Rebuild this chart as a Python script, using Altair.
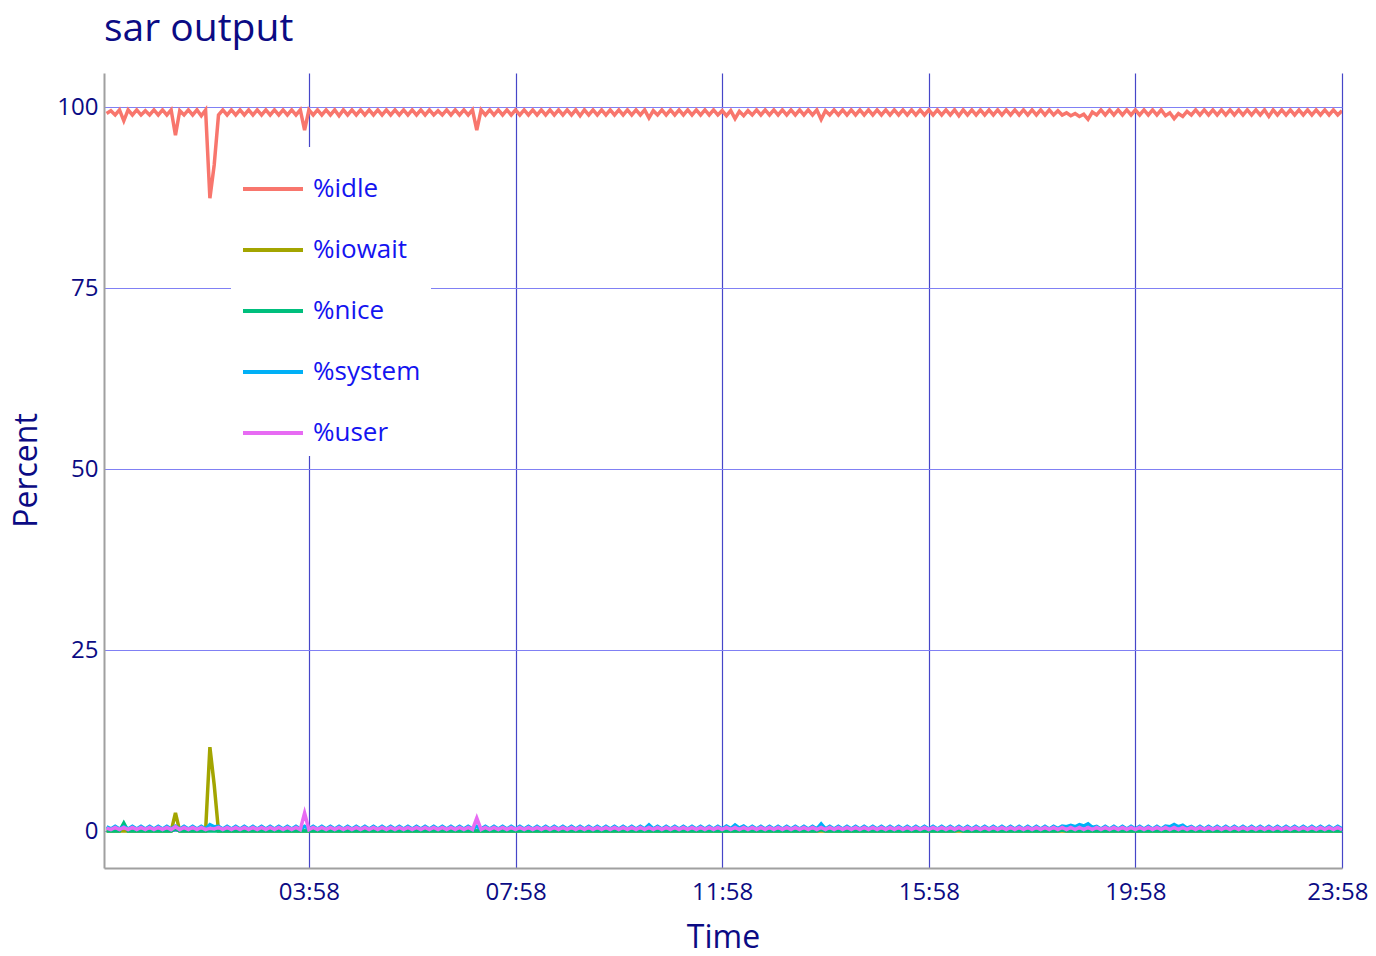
import altair as alt
import pandas as pd

# sample times (minutes after midnight), one every 5 minutes
minutes = list(range(3, 1440, 5))

series_names = ["%idle", "%iowait", "%nice", "%system", "%user"]
series_colors = ["#F8766D", "#A3A500", "#00BF7D", "#00B0F6", "#E76BF3"]

tick_minutes = [238, 478, 718, 958, 1198, 1438]
y_ticks = [0, 25, 50, 75, 100]

idle_pct = [
    99.1, 99.5, 98.9, 99.6, 98.1, 99.6, 98.9, 99.6, 98.9, 99.5, 98.9, 99.6,
    98.9, 99.6, 98.9, 99.6, 96.1, 99.5, 98.9, 99.6, 98.9, 99.6, 98.8, 99.6,
    87.4, 92.0, 98.9, 99.6, 98.9, 99.6, 98.9, 99.6, 98.9, 99.6, 98.9, 99.6,
    98.9, 99.6, 98.9, 99.6, 98.9, 99.6, 98.9, 99.6, 98.9, 99.6, 96.8, 99.6,
    98.9, 99.6, 98.9, 99.6, 98.9, 99.6, 98.8, 99.6, 98.9, 99.6, 98.9, 99.6,
    98.9, 99.6, 98.9, 99.6, 98.9, 99.6, 98.9, 99.6, 98.9, 99.6, 98.9, 99.6,
    98.9, 99.6, 98.9, 99.6, 98.9, 99.5, 98.9, 99.6, 98.9, 99.6, 98.9, 99.6,
    98.9, 99.6, 96.8, 99.6, 98.9, 99.6, 98.9, 99.6, 98.9, 99.6, 98.9, 99.6,
    98.9, 99.6, 98.9, 99.6, 98.9, 99.6, 98.9, 99.6, 98.9, 99.6, 98.9, 99.6,
    98.9, 99.6, 98.8, 99.6, 98.9, 99.6, 98.9, 99.6, 98.9, 99.6, 98.9, 99.6,
    98.9, 99.6, 98.9, 99.6, 98.9, 99.6, 98.5, 99.5, 98.9, 99.6, 98.9, 99.6,
    98.9, 99.6, 98.9, 99.6, 98.9, 99.6, 98.9, 99.6, 98.9, 99.6, 98.9, 99.5,
    98.8, 99.5, 98.4, 99.4, 98.8, 99.5, 98.9, 99.6, 98.9, 99.6, 98.9, 99.6,
    98.9, 99.6, 98.9, 99.6, 98.9, 99.6, 98.9, 99.6, 98.9, 99.6, 98.3, 99.5,
    98.9, 99.6, 98.9, 99.6, 98.9, 99.6, 98.9, 99.6, 98.9, 99.6, 98.9, 99.6,
    98.9, 99.6, 98.9, 99.6, 98.9, 99.6, 98.9, 99.6, 98.9, 99.6, 98.9, 99.6,
    98.9, 99.6, 98.9, 99.6, 98.9, 99.6, 98.8, 99.6, 98.9, 99.6, 98.9, 99.6,
    98.9, 99.6, 98.9, 99.6, 98.9, 99.6, 98.9, 99.6, 98.9, 99.6, 98.9, 99.6,
    98.9, 99.6, 98.9, 99.6, 98.9, 99.5, 98.9, 99.2, 98.8, 99.1, 98.7, 99.0,
    98.3, 99.3, 98.9, 99.6, 98.9, 99.6, 98.9, 99.6, 98.9, 99.6, 98.9, 99.6,
    98.9, 99.6, 98.9, 99.6, 98.9, 99.6, 98.8, 99.2, 98.4, 99.1, 98.7, 99.4,
    98.9, 99.6, 98.9, 99.6, 98.9, 99.6, 98.9, 99.6, 98.9, 99.6, 98.9, 99.6,
    98.9, 99.6, 98.9, 99.6, 98.9, 99.6, 98.7, 99.6, 98.9, 99.6, 98.9, 99.6,
    98.9, 99.6, 98.9, 99.6, 98.9, 99.6, 98.9, 99.6, 98.9, 99.6, 98.9, 99.5,
]

iowait_pct = [
    0.0, 0.0, 0.0, 0.0, 0.0, 0.0, 0.0, 0.0, 0.0, 0.0, 0.0, 0.0,
    0.0, 0.0, 0.0, 0.0, 2.5, 0.0, 0.0, 0.0, 0.0, 0.0, 0.0, 0.0,
    11.6, 6.4, 0.0, 0.0, 0.0, 0.0, 0.0, 0.0, 0.0, 0.0, 0.0, 0.0,
    0.0, 0.0, 0.0, 0.0, 0.0, 0.0, 0.0, 0.0, 0.0, 0.0, 0.0, 0.0,
    0.0, 0.0, 0.0, 0.0, 0.0, 0.0, 0.0, 0.0, 0.0, 0.0, 0.0, 0.0,
    0.0, 0.0, 0.0, 0.0, 0.0, 0.0, 0.0, 0.0, 0.0, 0.0, 0.0, 0.0,
    0.0, 0.0, 0.0, 0.0, 0.0, 0.0, 0.0, 0.0, 0.0, 0.0, 0.0, 0.0,
    0.0, 0.0, 0.0, 0.0, 0.0, 0.0, 0.0, 0.0, 0.0, 0.0, 0.0, 0.0,
    0.0, 0.0, 0.0, 0.0, 0.0, 0.0, 0.0, 0.0, 0.0, 0.0, 0.0, 0.0,
    0.0, 0.0, 0.0, 0.0, 0.0, 0.0, 0.0, 0.0, 0.0, 0.0, 0.0, 0.0,
    0.0, 0.0, 0.0, 0.0, 0.0, 0.0, 0.0, 0.0, 0.0, 0.0, 0.0, 0.0,
    0.0, 0.0, 0.0, 0.0, 0.0, 0.0, 0.0, 0.0, 0.0, 0.0, 0.0, 0.0,
    0.0, 0.0, 0.0, 0.0, 0.0, 0.0, 0.0, 0.0, 0.0, 0.0, 0.0, 0.0,
    0.0, 0.0, 0.0, 0.0, 0.0, 0.0, 0.0, 0.0, 0.0, 0.0, 0.0, 0.0,
    0.0, 0.0, 0.0, 0.0, 0.0, 0.0, 0.0, 0.0, 0.0, 0.0, 0.0, 0.0,
    0.0, 0.0, 0.0, 0.0, 0.0, 0.0, 0.0, 0.0, 0.0, 0.0, 0.0, 0.0,
    0.0, 0.0, 0.0, 0.0, 0.0, 0.0, 0.0, 0.0, 0.0, 0.0, 0.0, 0.0,
    0.0, 0.0, 0.0, 0.0, 0.0, 0.0, 0.0, 0.0, 0.0, 0.0, 0.0, 0.0,
    0.0, 0.0, 0.0, 0.0, 0.0, 0.0, 0.0, 0.0, 0.0, 0.0, 0.0, 0.0,
    0.0, 0.0, 0.0, 0.0, 0.0, 0.0, 0.0, 0.0, 0.0, 0.0, 0.0, 0.0,
    0.0, 0.0, 0.0, 0.0, 0.0, 0.0, 0.0, 0.0, 0.0, 0.0, 0.0, 0.0,
    0.0, 0.0, 0.0, 0.0, 0.0, 0.0, 0.0, 0.0, 0.0, 0.0, 0.0, 0.0,
    0.0, 0.0, 0.0, 0.0, 0.0, 0.0, 0.0, 0.0, 0.0, 0.0, 0.0, 0.0,
    0.0, 0.0, 0.0, 0.0, 0.0, 0.0, 0.0, 0.0, 0.0, 0.0, 0.0, 0.0,
]

nice_pct = [
    0.0, 0.0, 0.0, 0.0, 1.1, 0.0, 0.0, 0.0, 0.0, 0.0, 0.0, 0.0,
    0.0, 0.0, 0.0, 0.0, 0.3, 0.0, 0.0, 0.0, 0.0, 0.0, 0.0, 0.0,
    0.0, 0.0, 0.0, 0.0, 0.0, 0.0, 0.0, 0.0, 0.0, 0.0, 0.0, 0.0,
    0.0, 0.0, 0.0, 0.0, 0.0, 0.0, 0.0, 0.0, 0.0, 0.0, 0.0, 0.0,
    0.0, 0.0, 0.0, 0.0, 0.0, 0.0, 0.0, 0.0, 0.0, 0.0, 0.0, 0.0,
    0.0, 0.0, 0.0, 0.0, 0.0, 0.0, 0.0, 0.0, 0.0, 0.0, 0.0, 0.0,
    0.0, 0.0, 0.0, 0.0, 0.0, 0.0, 0.0, 0.0, 0.0, 0.0, 0.0, 0.0,
    0.0, 0.0, 0.0, 0.0, 0.0, 0.0, 0.0, 0.0, 0.0, 0.0, 0.0, 0.0,
    0.0, 0.0, 0.0, 0.0, 0.0, 0.0, 0.0, 0.0, 0.0, 0.0, 0.0, 0.0,
    0.0, 0.0, 0.0, 0.0, 0.0, 0.0, 0.0, 0.0, 0.0, 0.0, 0.0, 0.0,
    0.0, 0.0, 0.0, 0.0, 0.0, 0.0, 0.0, 0.0, 0.0, 0.0, 0.0, 0.0,
    0.0, 0.0, 0.0, 0.0, 0.0, 0.0, 0.0, 0.0, 0.0, 0.0, 0.0, 0.0,
    0.0, 0.0, 0.0, 0.0, 0.0, 0.0, 0.0, 0.0, 0.0, 0.0, 0.0, 0.0,
    0.0, 0.0, 0.0, 0.0, 0.0, 0.0, 0.0, 0.0, 0.0, 0.0, 0.2, 0.0,
    0.0, 0.0, 0.0, 0.0, 0.0, 0.0, 0.0, 0.0, 0.0, 0.0, 0.0, 0.0,
    0.0, 0.0, 0.0, 0.0, 0.0, 0.0, 0.0, 0.0, 0.0, 0.0, 0.0, 0.0,
    0.0, 0.0, 0.0, 0.0, 0.0, 0.0, 0.2, 0.0, 0.0, 0.0, 0.0, 0.0,
    0.0, 0.0, 0.0, 0.0, 0.0, 0.0, 0.0, 0.0, 0.0, 0.0, 0.0, 0.0,
    0.0, 0.0, 0.0, 0.0, 0.0, 0.0, 0.15, 0.0, 0.0, 0.0, 0.0, 0.0,
    0.0, 0.0, 0.0, 0.0, 0.0, 0.0, 0.0, 0.0, 0.0, 0.0, 0.0, 0.0,
    0.0, 0.0, 0.0, 0.0, 0.0, 0.0, 0.0, 0.0, 0.0, 0.0, 0.0, 0.0,
    0.0, 0.0, 0.0, 0.0, 0.0, 0.0, 0.0, 0.0, 0.0, 0.0, 0.0, 0.0,
    0.0, 0.0, 0.0, 0.0, 0.0, 0.0, 0.0, 0.0, 0.0, 0.0, 0.0, 0.0,
    0.0, 0.0, 0.0, 0.0, 0.0, 0.0, 0.0, 0.0, 0.0, 0.0, 0.0, 0.0,
]

system_pct = [
    0.6, 0.3, 0.65, 0.3, 0.6, 0.3, 0.65, 0.3, 0.65, 0.3, 0.65, 0.3,
    0.65, 0.3, 0.65, 0.3, 0.7, 0.3, 0.65, 0.3, 0.65, 0.3, 0.65, 0.3,
    0.9, 0.6, 0.65, 0.3, 0.65, 0.3, 0.65, 0.3, 0.65, 0.3, 0.65, 0.3,
    0.65, 0.3, 0.65, 0.3, 0.65, 0.3, 0.65, 0.3, 0.65, 0.3, 0.65, 0.3,
    0.65, 0.3, 0.65, 0.3, 0.65, 0.3, 0.65, 0.3, 0.65, 0.3, 0.65, 0.3,
    0.65, 0.3, 0.65, 0.3, 0.65, 0.3, 0.65, 0.3, 0.65, 0.3, 0.65, 0.3,
    0.65, 0.3, 0.65, 0.3, 0.65, 0.3, 0.65, 0.3, 0.65, 0.3, 0.65, 0.3,
    0.65, 0.3, 0.65, 0.3, 0.65, 0.3, 0.65, 0.3, 0.65, 0.3, 0.65, 0.3,
    0.65, 0.3, 0.65, 0.3, 0.65, 0.3, 0.65, 0.3, 0.65, 0.3, 0.65, 0.3,
    0.65, 0.3, 0.65, 0.3, 0.65, 0.3, 0.65, 0.3, 0.65, 0.3, 0.65, 0.3,
    0.65, 0.3, 0.65, 0.3, 0.65, 0.3, 0.85, 0.3, 0.65, 0.3, 0.65, 0.3,
    0.65, 0.3, 0.65, 0.3, 0.65, 0.3, 0.65, 0.3, 0.65, 0.3, 0.65, 0.3,
    0.7, 0.35, 0.85, 0.4, 0.7, 0.3, 0.65, 0.3, 0.65, 0.3, 0.65, 0.3,
    0.65, 0.3, 0.65, 0.3, 0.65, 0.3, 0.65, 0.3, 0.65, 0.3, 1.0, 0.3,
    0.65, 0.3, 0.65, 0.3, 0.65, 0.3, 0.65, 0.3, 0.65, 0.3, 0.65, 0.3,
    0.65, 0.3, 0.65, 0.3, 0.65, 0.3, 0.65, 0.3, 0.65, 0.3, 0.65, 0.3,
    0.65, 0.3, 0.65, 0.3, 0.65, 0.3, 0.65, 0.3, 0.65, 0.3, 0.65, 0.3,
    0.65, 0.3, 0.65, 0.3, 0.65, 0.3, 0.65, 0.3, 0.65, 0.3, 0.65, 0.3,
    0.65, 0.3, 0.65, 0.3, 0.65, 0.35, 0.7, 0.6, 0.8, 0.6, 0.9, 0.7,
    1.0, 0.5, 0.65, 0.3, 0.65, 0.3, 0.65, 0.3, 0.65, 0.3, 0.65, 0.3,
    0.65, 0.3, 0.65, 0.3, 0.65, 0.3, 0.7, 0.6, 0.9, 0.6, 0.8, 0.4,
    0.65, 0.3, 0.65, 0.3, 0.65, 0.3, 0.65, 0.3, 0.65, 0.3, 0.65, 0.3,
    0.65, 0.3, 0.65, 0.3, 0.65, 0.3, 0.65, 0.3, 0.65, 0.3, 0.65, 0.3,
    0.65, 0.3, 0.65, 0.3, 0.65, 0.3, 0.65, 0.3, 0.65, 0.3, 0.65, 0.3,
]

user_pct = [
    0.4, 0.2, 0.5, 0.2, 0.5, 0.2, 0.5, 0.2, 0.5, 0.2, 0.5, 0.2,
    0.5, 0.2, 0.5, 0.2, 0.6, 0.2, 0.5, 0.2, 0.5, 0.2, 0.5, 0.2,
    0.4, 0.3, 0.5, 0.2, 0.5, 0.2, 0.5, 0.2, 0.5, 0.2, 0.5, 0.2,
    0.5, 0.2, 0.5, 0.2, 0.5, 0.2, 0.5, 0.2, 0.5, 0.2, 2.5, 0.2,
    0.5, 0.2, 0.5, 0.2, 0.5, 0.2, 0.5, 0.2, 0.5, 0.2, 0.5, 0.2,
    0.5, 0.2, 0.5, 0.2, 0.5, 0.2, 0.5, 0.2, 0.5, 0.2, 0.5, 0.2,
    0.5, 0.2, 0.5, 0.2, 0.5, 0.2, 0.5, 0.2, 0.5, 0.2, 0.5, 0.2,
    0.5, 0.2, 1.8, 0.2, 0.5, 0.2, 0.5, 0.2, 0.5, 0.2, 0.5, 0.2,
    0.5, 0.2, 0.5, 0.2, 0.5, 0.2, 0.5, 0.2, 0.5, 0.2, 0.5, 0.2,
    0.5, 0.2, 0.5, 0.2, 0.5, 0.2, 0.5, 0.2, 0.5, 0.2, 0.5, 0.2,
    0.5, 0.2, 0.5, 0.2, 0.5, 0.2, 0.5, 0.2, 0.5, 0.2, 0.5, 0.2,
    0.5, 0.2, 0.5, 0.2, 0.5, 0.2, 0.5, 0.2, 0.5, 0.2, 0.5, 0.2,
    0.5, 0.2, 0.5, 0.2, 0.5, 0.2, 0.5, 0.2, 0.5, 0.2, 0.5, 0.2,
    0.5, 0.2, 0.5, 0.2, 0.5, 0.2, 0.5, 0.2, 0.5, 0.2, 0.5, 0.2,
    0.5, 0.2, 0.5, 0.2, 0.5, 0.2, 0.5, 0.2, 0.5, 0.2, 0.5, 0.2,
    0.5, 0.2, 0.5, 0.2, 0.5, 0.2, 0.5, 0.2, 0.5, 0.2, 0.5, 0.2,
    0.5, 0.2, 0.5, 0.2, 0.5, 0.2, 0.5, 0.2, 0.5, 0.2, 0.5, 0.2,
    0.5, 0.2, 0.5, 0.2, 0.5, 0.2, 0.5, 0.2, 0.5, 0.2, 0.5, 0.2,
    0.5, 0.2, 0.5, 0.2, 0.5, 0.2, 0.5, 0.2, 0.5, 0.2, 0.5, 0.2,
    0.5, 0.2, 0.5, 0.2, 0.5, 0.2, 0.5, 0.2, 0.5, 0.2, 0.5, 0.2,
    0.5, 0.2, 0.5, 0.2, 0.5, 0.2, 0.5, 0.2, 0.5, 0.2, 0.5, 0.2,
    0.5, 0.2, 0.5, 0.2, 0.5, 0.2, 0.5, 0.2, 0.5, 0.2, 0.5, 0.2,
    0.5, 0.2, 0.5, 0.2, 0.5, 0.2, 0.5, 0.2, 0.5, 0.2, 0.5, 0.2,
    0.5, 0.2, 0.5, 0.2, 0.5, 0.2, 0.5, 0.2, 0.5, 0.2, 0.5, 0.2,
]

series_values = [idle_pct, iowait_pct, nice_pct, system_pct, user_pct]

rows = []
for name, vals in zip(series_names, series_values):
    for m, v in zip(minutes, vals):
        rows.append({"minute": m, "value": v, "series": name})
df = pd.DataFrame(rows)

NAVY = "#0b0b84"
FONT = "Open Sans"

chart = (
    alt.Chart(df)
    .mark_line(strokeWidth=3.5, clip=True)
    .encode(
        x=alt.X(
            "minute:Q",
            scale=alt.Scale(domain=[0, 1438], nice=False, zero=False),
            axis=alt.Axis(
                values=tick_minutes,
                labelExpr="utcFormat(datum.value * 60000, '%H:%M')",
                labelFlush=True,
                labelFlushOffset=26,
                title="Time",
                titleX=619,
                titleY=79,
                titleBaseline="alphabetic",
                titleAlign="center",
                gridColor="#4646c8",
                gridWidth=1.2,
                labelPadding=12,
            ),
        ),
        y=alt.Y(
            "value:Q",
            scale=alt.Scale(domain=[-5.1, 104.7], nice=False, zero=False),
            axis=alt.Axis(
                values=y_ticks,
                title="Percent",
                titleAngle=270,
                titleX=-68,
                titleY=397,
                titleBaseline="alphabetic",
                titleAlign="center",
                gridColor="#8080f4",
                gridWidth=1.2,
                labelPadding=6,
            ),
        ),
        color=alt.Color(
            "series:N",
            scale=alt.Scale(domain=series_names, range=series_colors),
            legend=alt.Legend(
                orient="none",
                legendX=127,
                legendY=74,
                title=None,
                symbolType="stroke",
                symbolSize=3600,
                symbolStrokeWidth=4,
                labelFont=FONT,
                labelFontSize=26,
                labelColor="#1414f0",
                labelOffset=8,
                rowPadding=16,
                padding=10,
                fillColor="white",
            ),
        ),
    )
    .properties(
        width=1238,
        height=795,
        title=alt.TitleParams(
            "sar output",
            anchor="start",
            font=FONT,
            fontSize=39,
            fontWeight="normal",
            color=NAVY,
            baseline="alphabetic",
            offset=33,
            dy=40,
            frame="group",
        ),
        autosize=alt.AutoSizeParams(type="none"),
        padding={"left": 96, "top": 65, "right": 26, "bottom": 80},
        background="white",
    )
    .configure_view(stroke=None)
    .configure_axis(
        labelFont=FONT,
        labelFontSize=24,
        labelColor=NAVY,
        titleFont=FONT,
        titleFontSize=32,
        titleFontWeight="normal",
        titleColor=NAVY,
        domainColor="#a0a0a0",
        domainWidth=2,
        ticks=False,
        tickSize=0,
        grid=True,
    )
)

chart.save("out.html", embed_options={"renderer": "svg", "actions": False})
